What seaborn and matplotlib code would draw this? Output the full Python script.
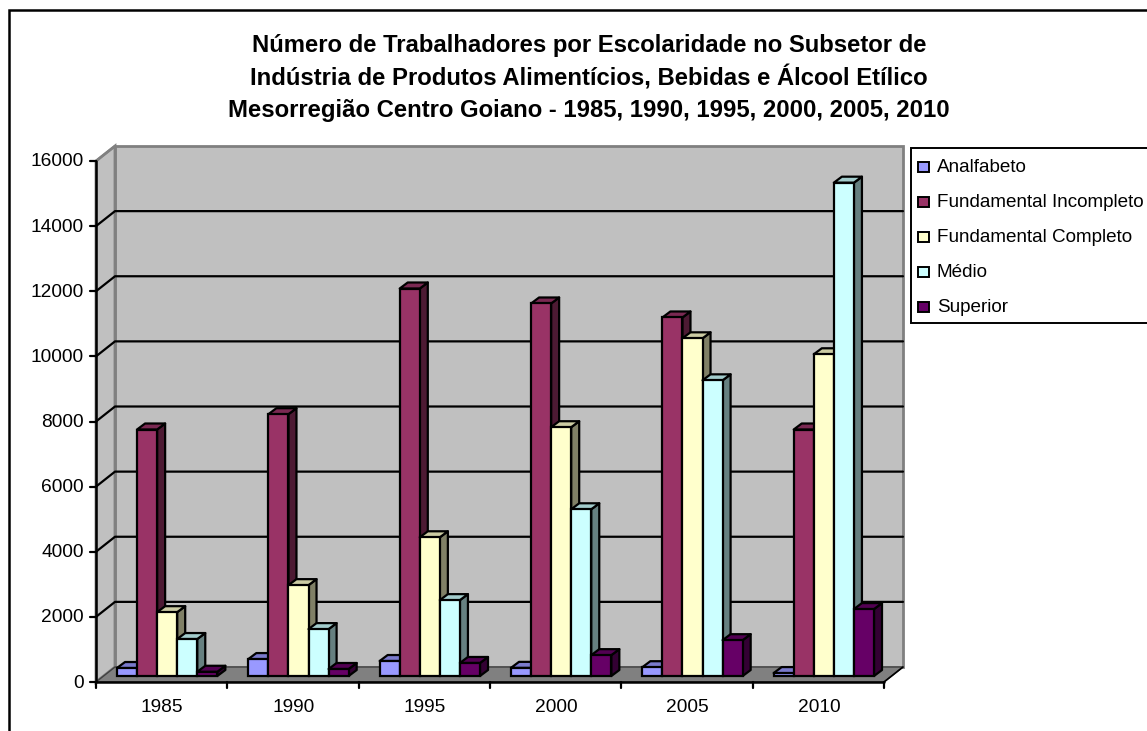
import numpy as np
import pandas as pd
import seaborn as sns
import matplotlib.pyplot as plt
from matplotlib.patches import Polygon, Rectangle
from matplotlib.transforms import Affine2D, IdentityTransform
from matplotlib.colors import to_rgb

anos = ['1985', '1990', '1995', '2000', '2005', '2010']
analfabeto = [245, 520, 460, 250, 270, 90]
fund_incompleto = [7570, 8040, 11900, 11440, 11010, 7570]
fund_completo = [1960, 2790, 4260, 7640, 10370, 9880]
medio = [1135, 1440, 2330, 5120, 9080, 15150]
superior = [130, 215, 400, 640, 1100, 2055]

series = ['Analfabeto', 'Fundamental Incompleto', 'Fundamental Completo', 'Médio', 'Superior']
cores = ['#9999FF', '#993366', '#FFFFCC', '#CCFFFF', '#660066']
titulo = ('Número de Trabalhadores por Escolaridade no Subsetor de\n'
          'Indústria de Produtos Alimentícios, Bebidas e Álcool Etílico\n'
          'Mesorregião Centro Goiano - 1985, 1990, 1995, 2000, 2005, 2010')

df = pd.DataFrame({'ano': anos, 'Analfabeto': analfabeto, 'Fundamental Incompleto': fund_incompleto,
                   'Fundamental Completo': fund_completo, 'Médio': medio, 'Superior': superior})
df = df.melt(id_vars='ano', var_name='serie', value_name='valor')

W, H = 1147, 731
sns.set_theme(style='white')
plt.rcParams['font.family'] = ['Liberation Sans', 'DejaVu Sans']

fig = plt.figure(figsize=(W / 100, H / 100), dpi=100)

# eixo no plano da frente das barras (pixels da imagem)
x0, x1, y0, y1 = 101.5, 889.5, 676, 155
ax = fig.add_axes([x0 / W, 1 - y0 / H, (x1 - x0) / W, (y0 - y1) / H])
ax.patch.set_visible(False)

sns.barplot(data=df, x='ano', y='valor', hue='serie', order=anos, hue_order=series,
            palette=cores, saturation=1, width=0.764, gap=0, legend=False,
            edgecolor='black', linewidth=1.6, ax=ax)
ax.set_xlim(-0.5, 5.5)
ax.set_ylim(0, 16000)
ax.set_xlabel('')
ax.set_ylabel('')
for s in ax.spines.values():
    s.set_visible(False)
ax.tick_params(left=False, bottom=False, labelleft=False, labelbottom=False)
barras = sorted([b for b in ax.patches if isinstance(b, Rectangle)], key=lambda b: b.get_x())

px = IdentityTransform()


def desloca(dx, dy):
    return ax.transData + Affine2D().translate(dx, dy)


def escurece(cor, f):
    return tuple(c * f for c in to_rgb(cor))


def poli(pts, **kw):
    p = Polygon(pts, closed=True, transform=px, clip_on=False, **kw)
    ax.add_patch(p)
    return p


def linha(xs, ys, **kw):
    ax.plot(xs, ys, transform=px, clip_on=False, scalex=False, scaley=False, **kw)


# paredes e chão do gráfico 3D
tf, tb = desloca(-5.5, -6), desloca(13.5, 9)
fundo = tb.transform([(-0.5, 0), (5.5, 0), (5.5, 16000), (-0.5, 16000)])
frente = tf.transform([(-0.5, 0), (5.5, 0), (5.5, 16000), (-0.5, 16000)])
cinza = '#C0C0C0'

poli(fundo, facecolor=cinza, edgecolor='#808080', linewidth=2, zorder=0.1)
poli([frente[0], fundo[0], fundo[3], frente[3]], facecolor=cinza, edgecolor='#808080', linewidth=2, zorder=0.1)
poli([frente[0], frente[1], fundo[1], fundo[0]], facecolor='#808080', edgecolor='#404040', linewidth=1, zorder=0.2)

# linhas de grade, nas paredes
yticks = list(range(0, 18000, 2000))
for v in yticks[1:]:
    a = tf.transform((-0.5, v))
    b = tb.transform((-0.5, v))
    c = tb.transform((5.5, v))
    if v < 16000:
        linha([a[0], b[0], c[0]], [a[1], b[1], c[1]], color='black', lw=1.6, zorder=0.3)
    else:
        linha([a[0], b[0]], [a[1], b[1]], color='#808080', lw=1.6, zorder=0.3)

# eixos da frente
linha([frente[0][0], frente[3][0]], [frente[0][1], frente[3][1]], color='black', lw=1.8, zorder=0.4)
linha([frente[0][0], frente[1][0]], [frente[0][1], frente[1][1]], color='black', lw=1.8, zorder=0.4)
linha([fundo[1][0], frente[1][0]], [fundo[1][1], frente[1][1]], color='black', lw=1.2, zorder=0.4)
for v in yticks:
    p = tf.transform((-0.5, v))
    linha([p[0] - 6, p[0]], [p[1], p[1]], color='black', lw=1.6)
    ax.text(p[0] - 12, p[1] - 1, str(v), transform=px, ha='right', va='center', fontsize=13.8, color='black')
for i in range(7):
    p = tf.transform((i - 0.5, 0))
    linha([p[0], p[0]], [p[1], p[1] - 6], color='black', lw=1.6)
for i, a in enumerate(anos):
    p = tf.transform((i, 0))
    ax.text(p[0] + 0.5, p[1] - 25, a, transform=px, ha='center', va='center', fontsize=13.8, color='black')

# lateral e topo de cada barra, da esquerda para a direita
dx, dy = 8, 6
for n, b in enumerate(barras):
    cor = b.get_facecolor()[:3]
    z = 1 + n * 0.01
    b.set_zorder(z + 0.005)
    b.set_clip_on(False)
    (xa, ya), (xb, yb) = ax.transData.transform([(b.get_x(), 0), (b.get_x() + b.get_width(), b.get_height())])
    lado = [(xb, ya), (xb + dx, ya + dy), (xb + dx, yb + dy), (xb, yb)]
    topo = [(xa, yb), (xb, yb), (xb + dx, yb + dy), (xa + dx, yb + dy)]
    poli(lado, facecolor=escurece(cor, 0.5), edgecolor='black', linewidth=1.6, zorder=z, joinstyle='round')
    poli(topo, facecolor=escurece(cor, 0.8), edgecolor='black', linewidth=1.6, zorder=z, joinstyle='round')

# moldura, título e legenda, na figura inteira
over = fig.add_axes([0, 0, 1, 1], zorder=5)
over.set_xlim(0, W)
over.set_ylim(H, 0)
over.axis('off')
over.plot([9, 9, W], [H, 10, 10], color='black', lw=1.8, solid_joinstyle='miter')
over.text(589, 78, titulo, ha='center', va='center', fontsize=17.2, fontweight='bold',
          color='black', linespacing=1.43)
over.add_patch(Rectangle((911, 147.5), 240, 175, facecolor='white', edgecolor='black', linewidth=1.4, clip_on=True))
for i, (nome, cor) in enumerate(zip(series, cores)):
    yy = 166.5 + i * 35
    over.add_patch(Rectangle((918, yy - 5), 11, 10, facecolor=cor, edgecolor='black', linewidth=1.4))
    over.text(937, yy + 1, nome, ha='left', va='center', fontsize=13.6, color='black')

fig.savefig('out.png', dpi=100)
